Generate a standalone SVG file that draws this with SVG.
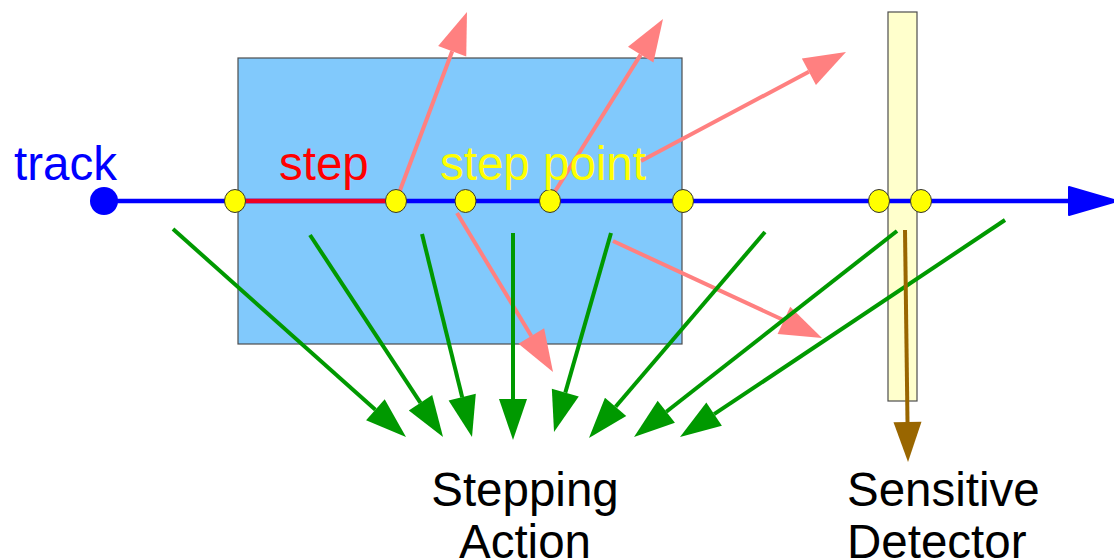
<svg xmlns="http://www.w3.org/2000/svg" width="1114" height="560" viewBox="0 0 1114 560">
  <style>
    .lbl { font-family: "Liberation Sans", Arial, sans-serif; font-size: 47.5px; }
    .pink { stroke: #FF8080; stroke-width: 4; fill: none; marker-end: url(#hp); }
    .green { stroke: #009900; stroke-width: 4; fill: none; marker-end: url(#hg); }
    .brown { stroke: #996600; stroke-width: 4; fill: none; marker-end: url(#hb); }
    .pt { fill: #FFFF00; stroke: #333333; stroke-width: 1; }
  </style>
  <defs>
    <marker id="hp" markerUnits="userSpaceOnUse" orient="auto" markerWidth="50" markerHeight="32" refX="0" refY="15" overflow="visible">
      <path d="M0,0 L42,15 L0,30 z" fill="#FF8080"/>
    </marker>
    <marker id="hg" markerUnits="userSpaceOnUse" orient="auto" markerWidth="50" markerHeight="32" refX="0" refY="14" overflow="visible">
      <path d="M0,0 L41,14 L0,28 z" fill="#009900"/>
    </marker>
    <marker id="hb" markerUnits="userSpaceOnUse" orient="auto" markerWidth="50" markerHeight="32" refX="0" refY="14" overflow="visible">
      <path d="M0,0 L40,14 L0,28 z" fill="#996600"/>
    </marker>
  </defs>
  <rect width="1114" height="560" fill="#FFFFFF"/>

  <g id="volume">
    <rect x="238" y="58" width="444" height="286" fill="#81C9FC" stroke="#4D4D4D" stroke-width="1.2"/>
  </g>
  <g id="sensitive-volume">
    <rect x="888" y="12" width="29" height="389" fill="#FFFFCC" stroke="#4D4D4D" stroke-width="1.2"/>
  </g>

  <g id="connectors">
    <line class="pink" x1="396" y1="201" x2="452.2" y2="51.3"/>
    <line class="pink" x1="549" y1="201" x2="640.7" y2="54.6"/>
    <line class="pink" x1="641" y1="161" x2="808.9" y2="71.7"/>
    <line class="pink" x1="457" y1="213" x2="531.3" y2="336"/>
    <line class="pink" x1="613" y1="241" x2="783.9" y2="320.3"/>

    <line class="green" x1="173" y1="229" x2="375.4" y2="409.7"/>
    <line class="green" x1="310" y1="235" x2="420.5" y2="402.8"/>
    <line class="green" x1="422" y1="234" x2="462.2" y2="397.2"/>
    <line class="green" x1="513" y1="233" x2="513" y2="399"/>
    <line class="green" x1="611" y1="233" x2="565.3" y2="392.6"/>
    <line class="green" x1="765" y1="232" x2="615.6" y2="406.8"/>
    <line class="green" x1="897" y1="231" x2="666.3" y2="411.7"/>
    <line class="green" x1="1005" y1="220" x2="714.1" y2="414.2"/>

    <line class="brown" x1="905" y1="230" x2="907.5" y2="422"/>
  </g>

  <g id="track">
    <line x1="104" y1="201" x2="1072" y2="201" stroke="#0000FF" stroke-width="4.5"/>
    <polygon points="1069,187 1117,201 1069,215" fill="#0000FF" stroke="#0000FF" stroke-width="2" stroke-linejoin="round"/>
    <circle cx="104" cy="201" r="14" fill="#0000FF"/>
  </g>
  <g id="step">
    <line x1="235" y1="201" x2="396" y2="201" stroke="#EE0022" stroke-width="4.5"/>
  </g>

  <g id="step-points">
    <ellipse class="pt" cx="235" cy="201" rx="10.5" ry="11.5"/>
    <ellipse class="pt" cx="396" cy="201" rx="10.5" ry="11.5"/>
    <ellipse class="pt" cx="465.5" cy="201" rx="10.5" ry="11.5"/>
    <ellipse class="pt" cx="550" cy="201" rx="10.5" ry="11.5"/>
    <ellipse class="pt" cx="683" cy="201" rx="10.5" ry="11.5"/>
    <ellipse class="pt" cx="879" cy="201" rx="10.5" ry="11.5"/>
    <ellipse class="pt" cx="921" cy="201" rx="10.5" ry="11.5"/>
  </g>

  <g id="labels">
    <text class="lbl" x="14" y="180" fill="#0000FF">track</text>
    <text class="lbl" x="279" y="180" fill="#FF0000">step</text>
    <text class="lbl" x="440" y="180" fill="#FFFF00">step point</text>
  </g>
  <g id="stepping-action">
    <text class="lbl" x="525" y="506" text-anchor="middle" fill="#000000">Stepping</text>
    <text class="lbl" x="525" y="558" text-anchor="middle" fill="#000000">Action</text>
  </g>
  <g id="sensitive-detector">
    <text class="lbl" x="847" y="506" fill="#000000">Sensitive</text>
    <text class="lbl" x="847" y="558" fill="#000000">Detector</text>
  </g>
</svg>
